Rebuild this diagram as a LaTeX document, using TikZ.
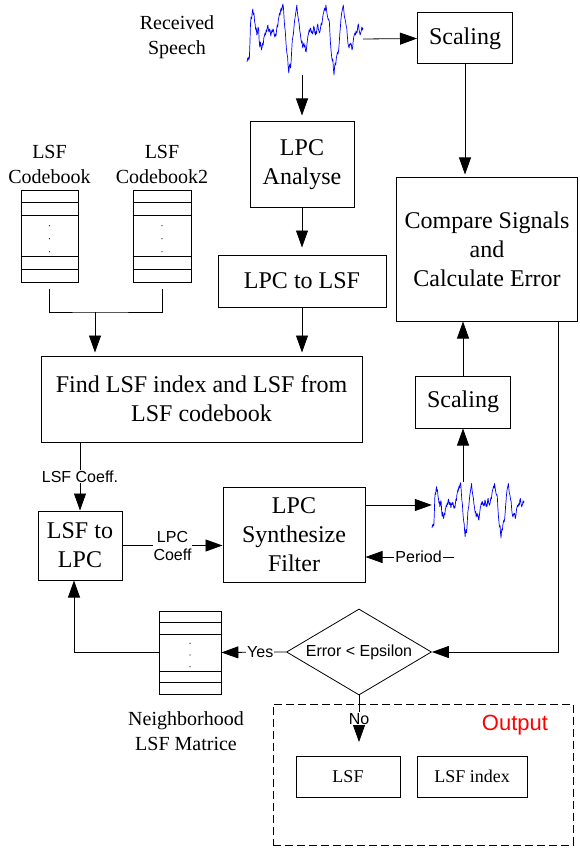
\documentclass[tikz,border=0pt]{standalone}
\usepackage{fontspec}
\setmainfont{Liberation Serif}
\setsansfont{Liberation Sans}
\usepackage{tikz}
\usetikzlibrary{arrows.meta,shapes.geometric,calc}

\newcommand{\bigtext}{\fontsize{24}{29}\selectfont}
\newcommand{\midtext}{\fontsize{20}{25}\selectfont}
\newcommand{\smalltext}{\sffamily\fontsize{16}{18}\selectfont}

\newcommand{\lsftable}[5]{%
  \node [draw, line width = 0.8pt, minimum width = #4, minimum height = #5, inner sep = 0pt] (#1) at (#2,#3) {};
  \foreach \f in {0.14,0.28,0.72,0.86}
    \draw [line width = 0.8pt] ($(#1.north west)!\f!(#1.south west)$) -- ($(#1.north east)!\f!(#1.south east)$);
  \foreach \f in {0.39,0.53,0.67}
    \fill ($(#1.north)!\f!(#1.south)$) circle (0.6pt);
}

\begin{document}
\begin{tikzpicture}[x = 1pt, y = -1pt,
        box/.style = {draw, line width = 1pt, inner sep = 0pt, align = center, font = \bigtext},
        outbox/.style = {draw, line width = 1pt, inner sep = 0pt, align = center, font = \fontsize{18}{22}\selectfont},
        lbl/.style = {align = center, font = \midtext},
        conlbl/.style = {fill = white, inner sep = 1pt, align = center, font = \smalltext},
        arr/.style = {-{Triangle[length = 17pt, width = 12pt]}, line width = 0.8pt},
        line/.style = {line width = 0.8pt},
        speech/.pic = {
            \draw [blue, line width = 0.7pt, line join = round] plot coordinates {
                (0,23)(0.6,19)(1,21)(1.5,18)(2,20)(2.5,5)(3,-15)(3.5,-22)(4,-20)(4.5,-27)(5,-30)(5.5,-24)(6,-26)(6.5,-18)(7,-15)(7.5,-9)(8,-11)(8.5,-4)(9,-6)(9.5,-12)(10,-10)
                (10.5,2)(11,8)(11.5,3)(12,6)(12.5,11)(13,8)(13.5,4)(14,6)(14.5,-1)(15,-3)(15.5,-6)(16,-4)(16.5,-9)(17,-7)(17.5,-12)(18,-14)(18.5,-9)(19,-7)(19.5,-10)(20,-8)
                (20.5,-3)(21,-6)(21.5,-9)(22,-7)(22.5,-10)(23,-8)(23.5,-4)(24,-2)(24.5,-5)(25,-3)(25.5,-9)(26,-14)(26.5,-12)(27,-19)(27.5,-22)(28,-26)(28.5,-24)(29,-29)(29.5,-31)(30,-28)
                (30.5,-33)(31,-35)(31.5,-30)(32,-20)(32.5,-12)(33,-8)(33.5,2)(34,10)(34.5,15)(35,18)(35.5,28)(36,34)(36.5,27)(37,25)(37.5,29)(38,23)(38.5,12)(39,2)(39.5,-2)(40,-5)
                (40.5,-12)(41,-18)(41.5,-22)(42,-26)(42.5,-30)(43,-34)(43.5,-26)(44,-22)(44.5,-18)(45,-15)(45.5,-8)(46,-5)(46.5,0)(47,4)(47.5,2)(48,9)(48.5,6)(49,4)(49.5,8)(50,6)
                (50.5,12)(51,13)(51.5,7)(52,2)(52.5,-3)(53,-5)(53.5,-9)(54,-7)(54.5,-11)(55,-10)(55.5,-6)(56,-8)(56.5,-5)(57,-7)(57.5,-13)(58,-11)(58.5,-6)(59,-4)(59.5,-8)(60,-5)
                (60.5,-13)(61,-15)(61.5,-10)(62,-8)(62.5,-6)(63,-8)(63.5,-12)(64,-16)(64.5,-14)(65,-19)(65.5,-24)(66,-26)(66.5,-29)(67,-31)(67.5,-28)(68,-34)(68.5,-30)(69,-25)(69.5,-22)(70,-19)
                (70.5,-20)(71,-17)(71.5,-5)(72,5)(72.5,12)(73,18)(73.5,22)(74,20)(74.5,30)(75,36)(75.5,28)(76,24)(76.5,26)(77,19)(77.5,16)(78,13)(78.5,15)(79,11)(79.5,4)(80,-5)
                (80.5,-12)(81,-20)(81.5,-25)(82,-28)(82.5,-31)(83,-34)(83.5,-28)(84,-22)(84.5,-20)(85,-17)(85.5,-13)(86,-11)(86.5,-3)(87,4)(87.5,7)(88,9)(88.5,5)(89,6)(89.5,4)(90,6)
                (90.5,11)(91,9)(91.5,3)(92,-2)(92.5,-4)(93,-6)(93.5,-4)(94,-8)(94.5,-6)(95,-7)(95.5,-13)(96,-15)(96.5,-10)(97,-7)(97.5,-4)(98,-6)(98.5,-8)(99,-12)(99.5,-9)(100,-11)};
        }]
    \useasboundingbox (0,0) rectangle (579,850);

    % waveforms
    \node [minimum width = 116pt, minimum height = 72pt, inner sep = 0pt] (wave1) at (305,39) {};
    \pic [xscale = 1.16] at (247,39) {speech};
    \node [minimum width = 92pt, minimum height = 46pt, inner sep = 0pt] (wave2) at (478,505) {};
    \pic [xscale = 0.92, yscale = 0.78] at (432,510) {speech};

    % blocks
    \node [box, minimum width = 95pt, minimum height = 51pt] (scaleA) at (465,38.5) {Scaling};
    \node [box, minimum width = 104pt, minimum height = 86pt] (lpcana) at (302,165) {LPC\\Analyse};
    \node [box, minimum width = 168pt, minimum height = 52pt] (lpclsf) at (302,281) {LPC to LSF};
    \node [box, minimum width = 181pt, minimum height = 143pt] (compare) at (487,249.5) {Compare Signals\\and\\Calculate Error};
    \node [box, minimum width = 95pt, minimum height = 52pt] (scaleB) at (463,402) {Scaling};
    \node [box, minimum width = 321pt, minimum height = 86pt] (find) at (201.5,399) {Find LSF index and LSF from\\LSF codebook};
    \node [box, minimum width = 84pt, minimum height = 69pt] (lsflpc) at (80,545.5) {LSF to\\LPC};
    \node [box, minimum width = 142pt, minimum height = 95pt] (synth) at (294,534.5) {LPC\\Synthesize\\Filter};
    \node [draw, diamond, aspect = 1.7, minimum width = 145pt, minimum height = 86pt, inner sep = 0pt,
        line width = 0.8pt, font = \smalltext] (test) at (359,652) {Error \textless{} Epsilon};

    % tables
    \lsftable{cb1}{49.5}{236}{57pt}{92pt}
    \lsftable{cb2}{162}{236}{58pt}{92pt}
    \lsftable{nb}{190}{652.5}{62pt}{83pt}

    % output
    \node [draw, dash pattern = on 8pt off 4pt, line width = 1pt, minimum width = 300pt, minimum height = 141pt] (output) at (423,774.5) {};
    \node [outbox, minimum width = 104pt, minimum height = 41pt] (outlsf) at (348,776.5) {LSF};
    \node [outbox, minimum width = 110pt, minimum height = 41pt] (outidx) at (472,776.5) {LSF index};
    \node [font = \sffamily\fontsize{22}{26}\selectfont, text = red] (outlbl) at (515,725) {Output};

    % labels
    \node [lbl] (rxlbl) at (177,37) {Received\\Speech};
    \node [lbl] (cb1lbl) at (49.5,164) {LSF\\Codebook};
    \node [lbl] (cb2lbl) at (162,164) {LSF\\Codebook2};
    \node [lbl] (nblbl) at (186,731) {Neighborhood\\LSF Matrice};

    % connectors
    \draw [arr] (wave1.east) -- (scaleA.west);
    \draw [arr, shorten >= 6pt] (wave1.south -| lpcana) -- (lpcana.north);
    \draw [arr, shorten >= 3pt] (scaleA.south) -- (scaleA.south |- compare.north);
    \draw [arr, shorten >= 7pt] (lpcana) -- (lpclsf);
    \draw [arr, shorten >= 3pt] (lpclsf.south) -- (lpclsf.south |- find.north);

    \coordinate (cbjoin) at (95,312);
    \draw [line] ([yshift = -7pt]cb1.south) |- (cbjoin) -| ([yshift = -7pt]cb2.south);
    \draw [arr, shorten >= 3pt] (cbjoin) -- (cbjoin |- find.north);

    \draw [arr] (find.south -| lsflpc) -- node [conlbl] {LSF Coeff.} (lsflpc.north);
    \draw [arr] (lsflpc.east) -- node [conlbl] {LPC\\Coeff} (lsflpc.east -| synth.west);
    \draw [arr] (synth.east |- wave2) -- (wave2.west);
    \draw [arr] (wave2.north -| scaleB) -- (scaleB.south);
    \draw [arr] (scaleB) -- (scaleB |- compare.south);
    \draw [arr] ([xshift = -20pt]compare.south east) |- (test.east);
    \draw [arr] (test.west) -- node [conlbl, pos = 0.4] {Yes} (nb.east);
    \draw [arr] (nb.west) -| ([xshift = -6pt]lsflpc.south);

    \coordinate (outin) at (359,742);
    \draw [arr] (test.south) -- node [conlbl] {No} (outin);
    \coordinate (periodin) at (454,557);
    \draw [arr] (periodin) -- node [conlbl, pos = 0.4] {Period} (periodin -| synth.east);
\end{tikzpicture}
\end{document}
